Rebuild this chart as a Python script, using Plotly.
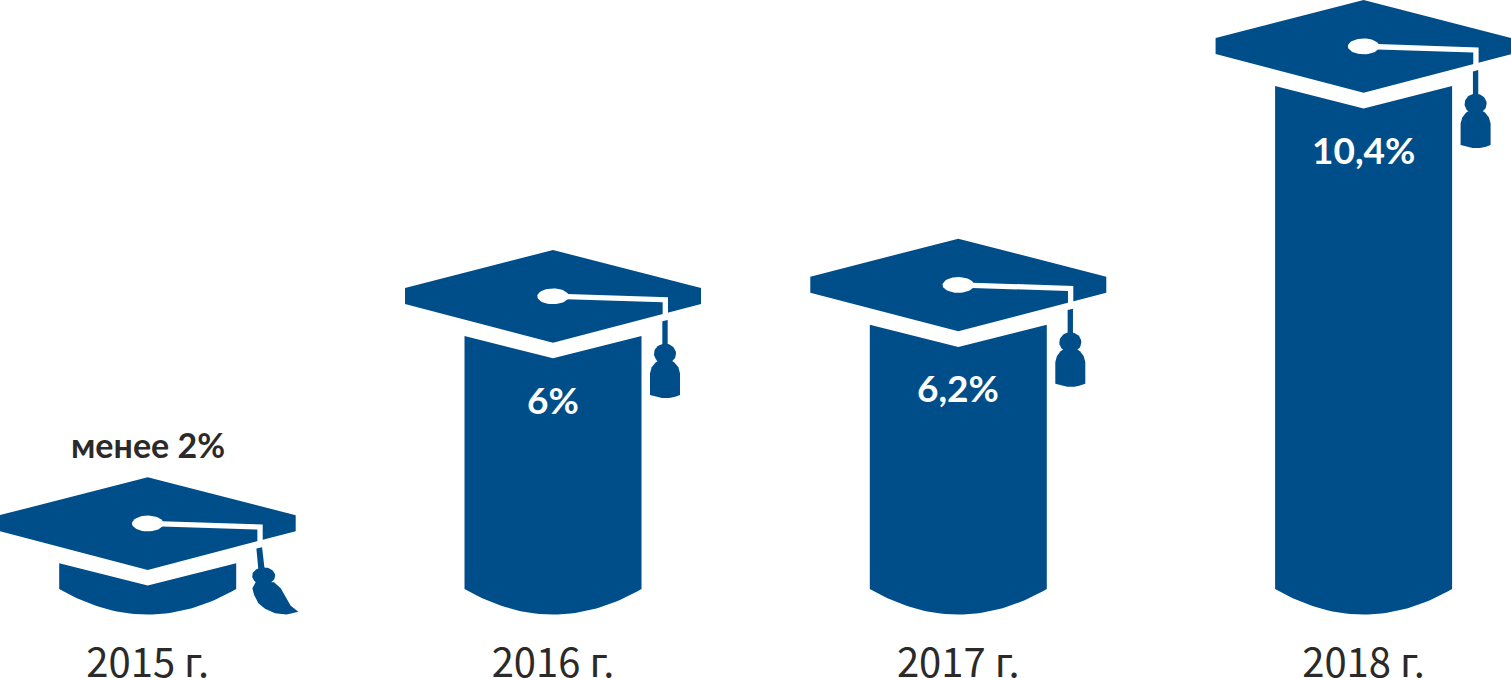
import numpy as np
import plotly.graph_objects as go

# ---- data ----
years = ["2015 г.", "2016 г.", "2017 г.", "2018 г."]
values = [2.0, 6.0, 6.2, 10.4]
value_labels = ["менее 2%", "6%", "6,2%", "10,4%"]
positions = [0, 1, 2, 3]

# ---- style ----
BLUE = "#004E89"
DARK = "#2B2A29"
PX_X = 405.3      # pixels per category step
PX_Y = 56.8       # pixels per percentage point
W, H = 1511, 678
PLOT_BOTTOM = 625
ZERO_PX = 699.1
LEFT_PX = 147.7
LABEL_FONT = "Lato, sans-serif"
YEAR_FONT = "Noto Sans CJK SC, sans-serif"

# ---- pictogram geometry, in pixels relative to the notch of the column top ----
BASE_EDGE_V = (ZERO_PX - 589) / PX_Y   # value at the bottom corners of a column
BASE_MID_V = (ZERO_PX - 614.5) / PX_Y    # value at the bottom centre of a column
HALF_W = 88.5


def from_zoom(pts):
    """3x crop coordinates with apex at (473,30) -> px relative to notch."""
    return [((a - 473) / 3, (b - 30) / 3 - 108.3) for a, b in pts]


def from_zoom15(pts):
    return [((a - 443) / 3, (b - 172) / 3 - 108.3) for a, b in pts]


CAP = [(0, -108.3), (148, -70.3), (148, -54.3), (0, -15.6), (-148, -54.3), (-148, -70.3)]
STRAP = from_zoom([(515, 162), (818, 172), (818, 223), (802, 223), (802, 187), (515, 178)])
t = np.linspace(0, 2 * np.pi, 50)
ELLIPSE = [(15.7 * np.cos(a), -62 + 7.9 * np.sin(a)) for a in t]

STRING = from_zoom([(801, 244), (817, 240), (817, 320), (801, 320)])
BALL = [((809 - 473) / 3 + 11 * np.cos(a), (341 - 30) / 3 - 108.3 + 10 * np.sin(a)) for a in t]
BODY = from_zoom([(795, 358), (823, 358), (838, 368), (849, 382), (854, 400), (854, 465),
                  (840, 470), (822, 474), (800, 474), (782, 470), (764, 465),
                  (764, 400), (769, 382), (780, 368)])

STRING15 = from_zoom15([(769, 386), (786, 382), (794, 450), (775, 450)])
BALL15 = [((791 - 443) / 3 + 11.5 * np.cos(a), (468 - 172) / 3 - 108.3 + 8.5 * np.sin(a)) for a in t]
BRUSH15 = from_zoom15([(768, 485), (757, 505), (762, 525), (775, 550), (795, 567), (825, 580),
                       (860, 584), (895, 576), (872, 558), (855, 530), (842, 505), (822, 487)])


def polygon(pos, val, pts):
    xs = [pos + dx / PX_X for dx, dy in pts]
    ys = [val - dy / PX_Y for dx, dy in pts]
    return xs + xs[:1], ys + ys[:1]


def column(pos, val):
    u = np.linspace(1, -1, 41)
    top_v = val + 22.3 / PX_Y
    xs = [pos - HALF_W / PX_X, pos, pos + HALF_W / PX_X]
    ys = [top_v, val, top_v]
    xs += [pos + HALF_W / PX_X * k for k in u]
    ys += [BASE_MID_V + (BASE_EDGE_V - BASE_MID_V) * k * k for k in u]
    return xs + xs[:1], ys + ys[:1]


def add(fig, xy, color):
    fig.add_trace(go.Scatter(x=xy[0], y=xy[1], mode="lines", fill="toself", fillcolor=color,
                             line=dict(width=0, color=color), hoverinfo="skip", showlegend=False))


fig = go.Figure()
for pos, val in zip(positions, values):
    add(fig, column(pos, val), BLUE)
    add(fig, polygon(pos, val, CAP), BLUE)
    add(fig, polygon(pos, val, STRAP), "white")
    add(fig, polygon(pos, val, ELLIPSE), "white")
    if pos == 0:
        add(fig, polygon(pos, val, STRING15), BLUE)
        add(fig, polygon(pos, val, BALL15), BLUE)
        add(fig, polygon(pos, val, BRUSH15), BLUE)
    else:
        add(fig, polygon(pos, val, STRING), BLUE)
        add(fig, polygon(pos, val, BALL), BLUE)
        add(fig, polygon(pos, val, BODY), BLUE)

for pos, val, lab in zip(positions, values, value_labels):
    outside = pos == 0
    fig.add_annotation(x=pos, y=val, xref="x", yref="y", text=f"<b>{lab}</b>", showarrow=False,
                       yshift=141 if outside else -41,
                       font=dict(family=LABEL_FONT, size=34 if outside else 37,
                                 color=DARK if outside else "white"))

fig.update_layout(
    width=W, height=H, autosize=False,
    margin=dict(l=0, r=0, t=0, b=H - PLOT_BOTTOM, pad=0),
    paper_bgcolor="white", plot_bgcolor="white", showlegend=False,
    xaxis=dict(range=[-LEFT_PX / PX_X, (W - LEFT_PX) / PX_X], tickmode="array", automargin=False,
               tickvals=positions, ticktext=years, showgrid=False, zeroline=False,
               showline=False, ticks="outside", ticklen=3, tickcolor="rgba(0,0,0,0)",
               tickfont=dict(family=YEAR_FONT, size=40, color=DARK), fixedrange=True),
    yaxis=dict(range=[(ZERO_PX - PLOT_BOTTOM) / PX_Y, ZERO_PX / PX_Y], visible=False,
               automargin=False, fixedrange=True),
)

fig.write_html("out.html", config={"displayModeBar": False},
               post_script="document.body.style.margin='0';document.body.style.overflow='hidden';")
